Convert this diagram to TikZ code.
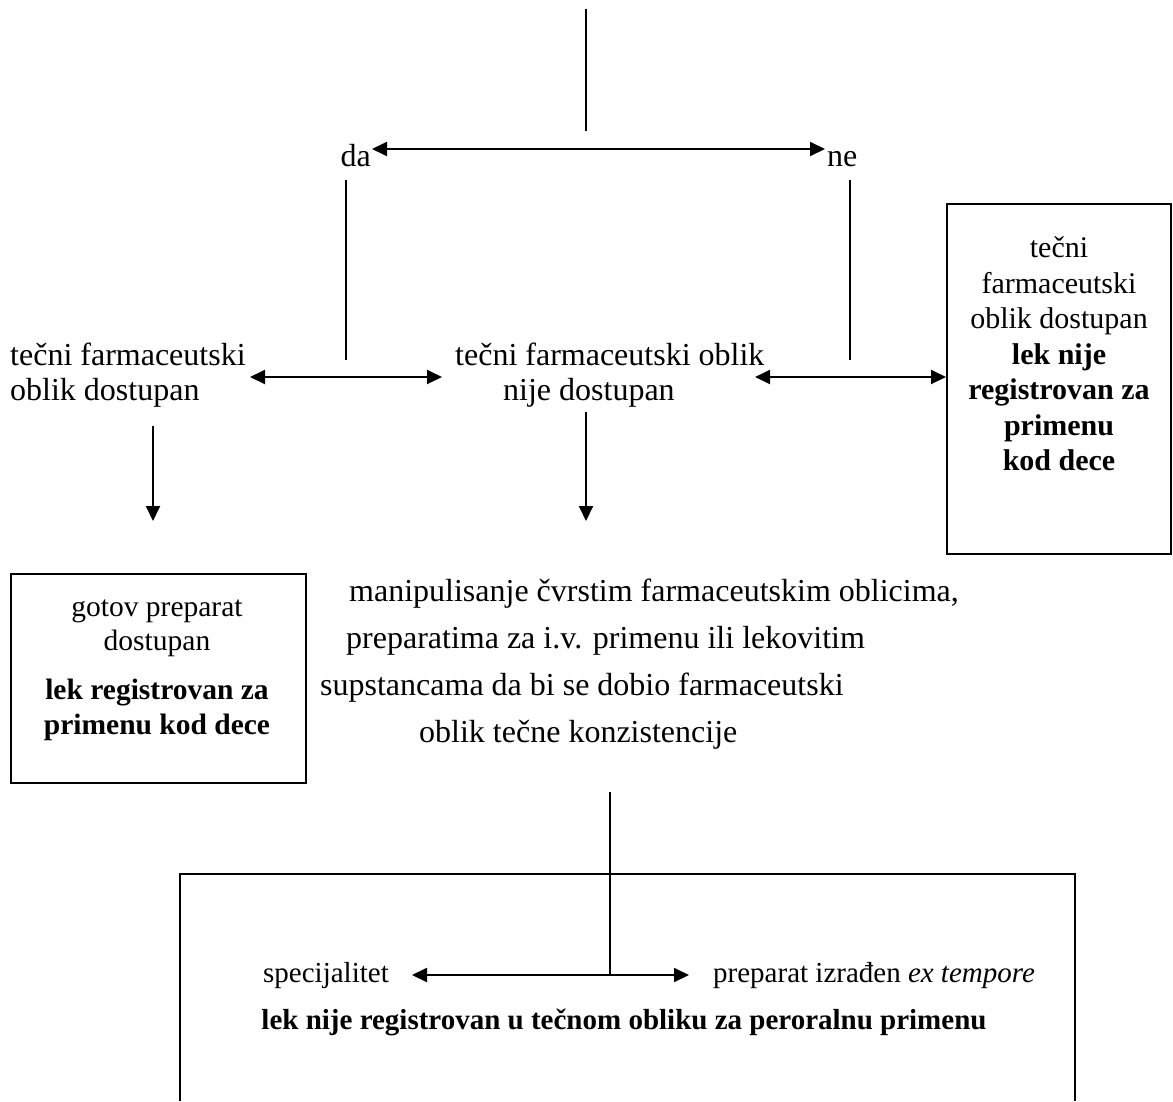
\documentclass[tikz,border=0pt]{standalone}
\usepackage{fontspec}
\setmainfont{Liberation Serif}
\usetikzlibrary{arrows.meta}
\begin{document}
\begin{tikzpicture}[x=1pt,y=-1pt,
  ln/.style={line width=1.9pt},
  tip/.style={Triangle[length=15pt,width=14pt]},
  arr/.style={ln,-{Triangle[length=15pt,width=14pt]}},
  dbl/.style={ln,{Triangle[length=15pt,width=14pt]}-{Triangle[length=15pt,width=14pt]}},
  txt/.style={inner sep=0pt,font=\fontsize{32}{35}\selectfont,align=center},
  boxtxt/.style={inner sep=0pt,font=\fontsize{30}{35.5}\selectfont,align=center},
  smalltxt/.style={inner sep=0pt,font=\fontsize{29}{34}\selectfont,align=center},
  boxed/.style={draw,line width=1.9pt,inner sep=0pt}]
\useasboundingbox (0,0) rectangle (1173,1101);
% top
\coordinate (top) at (586,9);
\coordinate (topend) at (586,131);
\draw[ln] (top) -- (topend);
\node[txt,anchor=base east] (da) at (371,166) {da};
\node[txt,anchor=base west] (ne) at (827,166) {ne};
\coordinate (daR) at (372,149);
\coordinate (neL) at (825,149);
\draw[dbl] (daR) -- (neL);
% vertical lines
\coordinate (dv1) at (346,180);
\coordinate (dv2) at (346,360);
\coordinate (nv1) at (850,180);
\coordinate (nv2) at (850,360);
\draw[ln] (dv1) -- (dv2);
\draw[ln] (nv1) -- (nv2);
% labels
\node[txt,align=left,anchor=west] (left) at (10,375) {tečni farmaceutski\\oblik dostupan};
\node[txt,align=left,anchor=west] (mid) at (455,375) {tečni farmaceutski oblik\\\hspace*{48pt}nije dostupan};
\node[boxed,minimum width=224pt,minimum height=350pt,anchor=north west] (rbox) at (946,203) {};
\node[boxtxt] (rtext) at (1059,354) {tečni\\farmaceutski\\oblik dostupan\\\textbf{lek nije}\\\textbf{registrovan za}\\\textbf{primenu}\\\textbf{kod dece}};
\coordinate (a1) at (250,377);
\coordinate (a2) at (442,377);
\coordinate (a3) at (755,377);
\draw[dbl] (a1) -- (a2);
\draw[dbl] (a3) -- (a3 -| rbox.west);
% down arrows
\coordinate (d1) at (153,426);
\coordinate (d1e) at (153,521);
\coordinate (d2) at (586,412);
\coordinate (d2e) at (586,521);
\draw[arr] (d1) -- (d1e);
\draw[arr] (d2) -- (d2e);
% left box
\node[boxed,minimum width=295pt,minimum height=209pt,anchor=north west] (lbox) at (10,573) {};
\node[boxtxt,font=\fontsize{29.5}{34}\selectfont] (ltext1) at (157,628) {gotov preparat\\dostupan};
\node[boxtxt,font=\fontsize{29.5}{35}\selectfont] (ltext2) at (157,710) {\textbf{lek registrovan za}\\\textbf{primenu kod dece}};
% manipulisanje
\node[txt,align=left,anchor=west,font=\fontsize{32}{47}\selectfont] (manip) at (320,664) {\hspace*{29pt}manipulisanje čvrstim farmaceutskim oblicima,\\\hspace*{26pt}preparatima za i.v. primenu ili lekovitim\\supstancama da bi se dobio farmaceutski\\\hspace*{99pt}oblik tečne konzistencije};
% bottom
\coordinate (mv1) at (610,792);
\coordinate (split) at (610,975);
\draw[ln] (mv1) -- (split);
\draw[ln] (180,1101) -- (180,874) -- (1075,874) -- (1075,1101);
\node[smalltxt,anchor=east] (spec) at (389,976) {specijalitet};
\node[smalltxt,anchor=west] (prep) at (713,976) {preparat izrađen \textit{ex tempore}};
\coordinate (sL) at (412,975);
\coordinate (sR) at (689,975);
\draw[dbl] (sL) -- (sR);
\node[smalltxt] (bold) at (624,1022) {\textbf{lek nije registrovan u tečnom obliku za peroralnu primenu}};
\end{tikzpicture}
\end{document}
